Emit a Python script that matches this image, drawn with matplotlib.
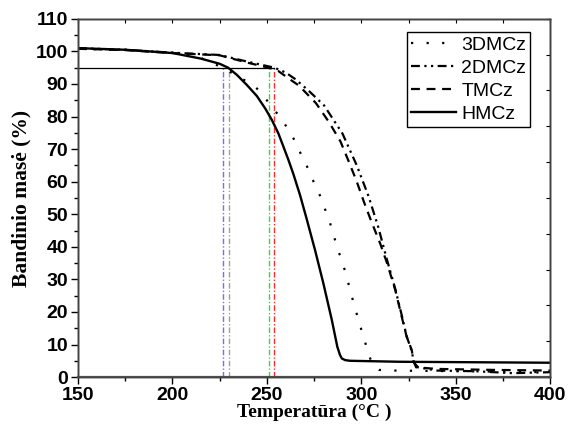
import numpy as np
import matplotlib
matplotlib.use('Agg')
import matplotlib.pyplot as plt

# TGA curves, values
t_3dmcz = [150, 175, 200, 215, 226.6, 235, 242.7, 247.3, 251.7, 256.5, 260.5, 264, 269, 272.4,
           275, 278, 280.5, 283, 287, 291.4, 295, 298.8, 302.9, 305, 307, 309.4, 316.6, 350, 400]
w_3dmcz = [100.8, 100.5, 99.6, 98.0, 95.0, 92.2, 89.7, 87.2, 83.6, 80.2, 76.8, 73.4, 67.3, 63.3,
           59.6, 55.9, 52.0, 48.2, 40.3, 32.6, 24.7, 16.9, 9.0, 5.2, 3.2, 2.2, 2.0, 1.8, 1.5]

t_2dmcz = [150, 175, 200, 225, 240, 254, 260, 265, 272, 280.3, 290, 297.6, 303.9, 309, 313.6,
           318, 321.4, 324, 326.7, 327.8, 330, 340, 360, 380, 400]
w_2dmcz = [101.0, 100.5, 99.6, 98.9, 96.8, 95.0, 93.5, 91.5, 88.0, 83.4, 74.8, 65.0, 55.4, 46.0, 36.0,
           27.0, 19.0, 12.5, 8.0, 4.5, 3.0, 2.0, 1.8, 1.2, 1.5]

t_tmcz = [150, 175, 200, 225, 240, 251, 256, 262, 267, 276, 283, 289, 293.2, 297.6, 301.5, 305.5,
          310, 313.6, 318, 321.4, 324, 326.7, 327.6, 329, 340, 370, 400]
w_tmcz = [100.8, 100.4, 99.5, 98.8, 96.5, 95.0, 94.0, 91.5, 89.5, 84.1, 78.2, 72.3, 66.4, 60.0, 53.6, 47.5,
          41.0, 35.0, 26.7, 18.5, 12.4, 8.3, 5.0, 3.0, 2.5, 2.2, 2.0]

t_hmcz = [150, 175, 200, 215, 225, 229.5, 234.1, 239.4, 244.7, 249.1, 252.6, 256.1, 258.8, 261.4,
          264, 267.6, 271.1, 275.5, 279.9, 284.4, 287.3, 288.7, 289.7, 291.5, 294.1, 320, 400]
w_hmcz = [101.0, 100.5, 99.5, 97.8, 96.2, 95.0, 92.8, 89.7, 86.3, 82.5, 79.0, 74.8, 70.7, 66.7,
          62.4, 55.8, 48.5, 39.0, 28.8, 17.5, 9.3, 6.8, 5.7, 5.2, 5.0, 4.7, 4.4]

# 5 % mass-loss temperatures
t5_temps = [226.6, 229.8, 251.3, 253.8]
t5_colors = ['#6f6fff', '#a0a0a0', '#33dd33', '#ff2a2a']
t5_level = 95

plt.rcParams['font.family'] = ['Liberation Sans', 'DejaVu Sans']
plt.rcParams['font.weight'] = 'bold'

fig = plt.figure(figsize=(5.69, 4.28), dpi=100)
ax = fig.add_axes([0.137, 0.119, 0.830, 0.837])

for t, c in zip(t5_temps, t5_colors):
    ax.plot([t, t], [0, t5_level], color=c, lw=1.0, ls=(0, (4, 1.5, 1, 1.5)), zorder=1)
ax.plot([150, max(t5_temps)], [t5_level, t5_level], color='black', lw=0.9, zorder=1)

ax.plot(t_3dmcz, w_3dmcz, color='black', lw=1.6, ls=(0, (1, 6)), label='3DMCz')
ax.plot(t_2dmcz, w_2dmcz, color='black', lw=1.6, ls=(0, (4, 2, 1, 2, 1, 2)), label='2DMCz')
ax.plot(t_tmcz, w_tmcz, color='black', lw=1.6, ls=(0, (4, 3)), label='TMCz')
ax.plot(t_hmcz, w_hmcz, color='black', lw=1.7, ls='-', label='HMCz')

ax.set_xlim(150, 400)
ax.set_ylim(0, 110)
ax.set_xticks(np.arange(150, 401, 50))
ax.set_xticks(np.arange(150, 401, 25), minor=True)
ax.set_yticks(np.arange(0, 111, 10))
ax.set_yticks(np.arange(0, 111, 5), minor=True)
ax.tick_params(which='major', direction='out', length=5, width=1, labelsize=14, pad=2)
ax.tick_params(which='minor', direction='out', length=3, width=1)

# inward ticks on top and right
axt = ax.twiny()
axt.set_xlim(150, 400)
axt.set_xticks(np.arange(150, 401, 25))
axt.tick_params(direction='in', length=3, labeltop=False)
axr = ax.twinx()
axr.set_ylim(0, 110)
axr.set_yticks(np.arange(0, 111, 11))
axr.tick_params(direction='in', length=3, labelright=False)

for a in (ax, axt, axr):
    for s in a.spines.values():
        s.set_color('#444444')
        s.set_linewidth(1.0)
ax.spines['bottom'].set_linewidth(1.6)
ax.spines['bottom'].set_color('#555555')

ax.set_xlabel('Temperatūra (°C )', family=['Liberation Serif', 'DejaVu Serif'],
              fontweight='bold', fontsize=14, labelpad=0)
ax.set_ylabel('Bandinio masė (%)', family=['Liberation Serif', 'DejaVu Serif'],
              fontweight='bold', fontsize=15.5, labelpad=3)

leg = ax.legend(loc='upper right', bbox_to_anchor=(0.958, 0.963), frameon=True,
                prop={'size': 14, 'weight': 'normal'},
                fancybox=False, edgecolor='black', framealpha=1, borderpad=0.2,
                labelspacing=0.28, handlelength=2.3, handletextpad=0.3, borderaxespad=0)
leg.get_frame().set_linewidth(1.0)

fig.savefig('out.png', dpi=100)
